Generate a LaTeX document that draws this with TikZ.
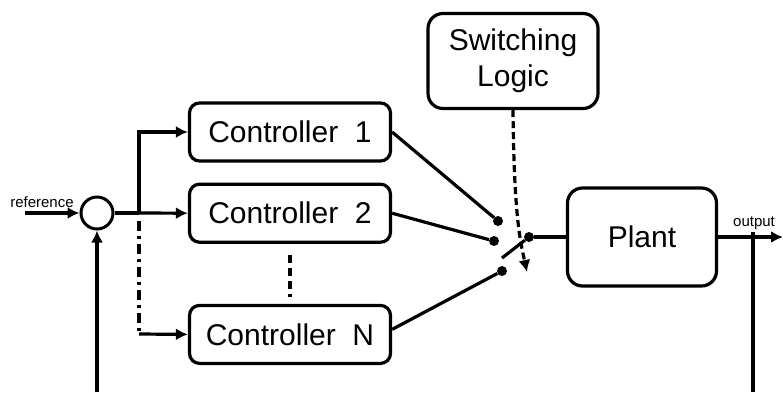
\documentclass[tikz,border=0pt]{standalone}
\usepackage{fontspec}
\setmainfont{Liberation Sans}
\usetikzlibrary{positioning,arrows.meta}
\tikzset{
  blk/.style={draw,line width=3.2pt,rounded corners=10pt,minimum width=201pt,minimum height=58pt,font=\fontsize{30}{34}\selectfont},
  bigblk/.style={blk,rounded corners=15pt},
  sumjn/.style={circle,draw,line width=3pt,minimum size=32pt,inner sep=0pt},
  contact/.style={circle,fill,inner sep=0pt,minimum size=10pt},
  lbl/.style={font=\fontsize{15}{17}\selectfont,inner sep=0pt},
  wire/.style={line width=3.2pt},
  arr/.style={wire,-{Latex[length=12pt,width=12pt]}}
}
\begin{document}
\begin{tikzpicture}[x=1pt,y=1pt]
                \useasboundingbox (0,0) rectangle (783,-392);
                \node[sumjn] (sum) at (97,-213) {};
                \node[blk] (c1) at (290,-132) {Controller\ \ 1};
                \node[blk] (c2)[below=20pt of c1] {Controller\ \ 2};
                \node[blk] (cn)[below=60pt of c2] {Controller\ \ N};
                \node[bigblk,minimum width=149pt,minimum height=98pt] (plant) at (642,-237) {Plant};
                \node[bigblk,minimum width=170pt,minimum height=95pt,align=center,font=\fontsize{30}{36}\selectfont] (logic) at (513,-61) {Switching\\Logic};
                \node[contact] (s1) at (498,-221) {};
                \node[contact] (s2) at (494,-241) {};
                \node[contact] (s3) at (502,-271) {};
                \node[contact] (pole) at (529,-237) {};
                \node[lbl] (ref) at (42,-202) {reference};
                \node[lbl] (out) at (754,-223) {output};
                \coordinate (in) at (25,-213);
                \coordinate (br) at (139,-213);
                \coordinate (bn) at (139,-334);
                \coordinate (blade) at (502,-258);
                \coordinate (swtip) at (527,-272);
                \coordinate (tap) at (753,-232);
                \coordinate (end) at (783,-237);
                \coordinate (fbout) at (753,-392);
                \coordinate (fbin) at (97,-392);
                \draw[arr] (in) -- (sum.west);
                \draw[wire] (sum.east) -- (br);
                \draw[arr] (br) -- (c2.west);
                \draw[arr] (br) |- (c1.west);
                \draw[wire,dash pattern=on 10pt off 5pt on 3pt off 5pt] ([yshift=-8pt]br) -- (bn);
                \draw[arr] (bn) -- (cn.west);
                \draw[wire,dash pattern=on 8pt off 5pt] ([yshift=-11pt]c2.south) -- ([yshift=7pt]cn.north);
                \path[wire] (c1.east) edge (s1)
                        (c2.east) edge (s2)
                        ([yshift=5pt]cn.east) edge (s3)
                        (pole) edge (blade)
                        (pole) edge (plant.west);
                \draw[arr,dash pattern=on 7pt off 4pt] (logic.south) .. controls (514,-215) and (520,-240) .. (swtip);
                \draw[arr] (plant.east) -- (end);
                \draw[wire] (tap) -- (fbout);
                \draw[arr] (fbin) -- (sum.south);
            \end{tikzpicture}
\end{document}
